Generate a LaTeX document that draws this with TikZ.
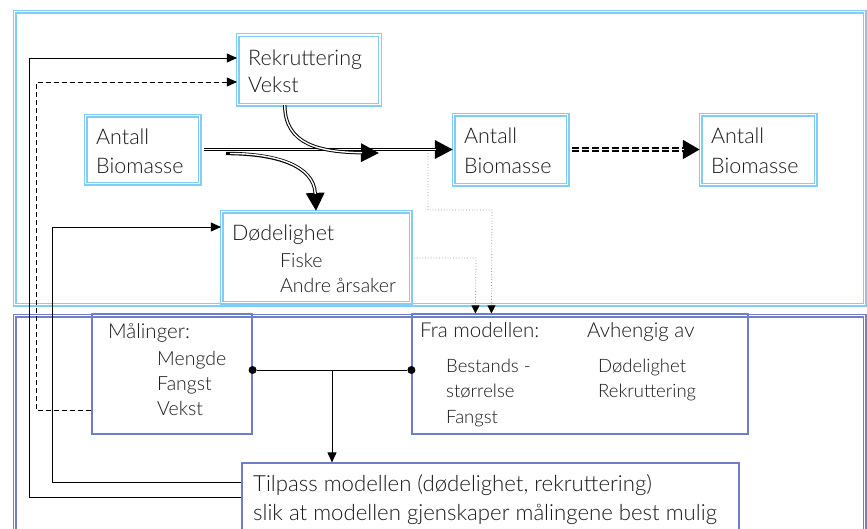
\documentclass[tikz,border=0pt]{standalone}
\usepackage{fontspec}
\setmainfont{Lato}[UprightFont={* Light}]
\usetikzlibrary{arrows.meta,calc}
\definecolor{cyanc}{RGB}{130,205,245}
\definecolor{bluec}{RGB}{112,125,200}
\definecolor{txt}{RGB}{25,25,25}
\definecolor{grayc}{RGB}{150,150,150}
\tikzset{
  cyanbox/.style={draw=cyanc, double=white, double distance=1.6pt, line width=1.2pt, rectangle, inner sep=0pt},
  bluebox/.style={draw=bluec, line width=1.2pt, rectangle, inner sep=0pt},
  lbl/.style={anchor=base west, inner sep=0pt, text=txt, font=\fontsize{21.5}{21.5}\selectfont},
  lblt1/.style={anchor=base west, inner sep=0pt, text=txt, font=\fontsize{22.2}{22.2}\selectfont},
  lblm/.style={anchor=base west, inner sep=0pt, text=txt, font=\fontsize{20.5}{20.5}\selectfont},
  lbls/.style={anchor=base west, inner sep=0pt, text=txt, font=\fontsize{19.5}{19.5}\selectfont},
  lblt/.style={anchor=base west, inner sep=0pt, text=txt, font=\fontsize{18.5}{18.5}\selectfont},
  dblouter/.style={draw=black, line width=3.4pt, -{Triangle[length=18pt,width=18pt]}},
  dblinner/.style={draw=white, line width=1.4pt, shorten >=17pt},
  dshouter/.style={draw=black, line width=5.4pt, dash pattern=on 7pt off 3pt, -{Triangle[length=17pt,width=18pt]}},
  dshinner/.style={draw=white, line width=1.4pt, shorten >=16pt},
  thinarr/.style={draw=black, line width=0.9pt, -{Triangle[length=10pt,width=9pt]}},
  grayarr/.style={draw=grayc, dotted, line width=0.8pt, -{Triangle[length=8pt,width=8pt,black]}},
  dotc/.style={circle, fill=black, inner sep=0pt, minimum size=8pt}
}
\begin{document}
\begin{tikzpicture}[x=1pt,y=-1pt]
\clip (0,0) rectangle (867,528);
\fill[white] (0,0) rectangle (867,528);
% frames
\node[cyanbox, minimum width=850pt, minimum height=293pt] (topf) at (439.5,158) {};
\node[draw=bluec, double=white, double distance=1.6pt, line width=1.2pt, rectangle, inner sep=0pt, minimum width=850pt, minimum height=240pt] (botf) at (439.5,435.5) {};
% top boxes
\node[cyanbox, minimum width=142.5pt, minimum height=69.5pt] (rek) at (308.75,69.75) {};
\node[cyanbox, minimum width=114pt, minimum height=68pt] (ant1) at (142.5,149.5) {};
\node[cyanbox, minimum width=189pt, minimum height=91pt] (dod) at (316,257) {};
\node[cyanbox, minimum width=114pt, minimum height=70pt] (ant2) at (510.5,149.5) {};
\node[cyanbox, minimum width=115pt, minimum height=70pt] (ant3) at (758,149.5) {};
% bottom boxes
\node[bluebox, minimum width=160pt, minimum height=120pt] (mal) at (172,374) {};
\node[bluebox, minimum width=336pt, minimum height=120pt] (fra) at (580,374) {};
\node[bluebox, minimum width=497pt, minimum height=82pt] (til) at (490.5,504) {};
% texts
\node[lbl] (t1) at (248,65) {Rekruttering};
\node[lbl] (t2) at (248,92) {Vekst};
\node[lbl] (t3) at (96,144) {Antall};
\node[lbl] (t4) at (96,173) {Biomasse};
\node[lbl] (t5) at (464,143) {Antall};
\node[lbl] (t6) at (464,173) {Biomasse};
\node[lbl] (t7) at (711,143) {Antall};
\node[lbl] (t8) at (711,173) {Biomasse};
\node[lbl] (t9) at (232,240) {Dødelighet};
\node[lbls] (t10) at (280,267) {Fiske};
\node[lbls] (t11) at (280,292) {Andre årsaker};
\node[lblm] (t12) at (108,338) {Målinger:};
\node[lbls] (t13) at (157,365) {Mengde};
\node[lbls] (t14) at (157,390) {Fangst};
\node[lbls] (t15) at (157,415) {Vekst};
\node[lblm] (t16) at (420,337) {Fra modellen:};
\node[lblm] (t17) at (587,337) {Avhengig av};
\node[lblt] (t18) at (446,372) {Bestands -};
\node[lblt] (t19) at (446,397) {størrelse};
\node[lblt] (t20) at (446,423) {Fangst};
\node[lblt] (t21) at (598,372) {Dødelighet};
\node[lblt] (t22) at (598,397) {Rekruttering};
\node[lblt1] (t23) at (253,491) {Tilpass modellen (dødelighet, rekruttering)};
\node[lblt1] (t24) at (253,520) {slik at modellen gjenskaper målingene best mulig};
% gray dotted connectors
\coordinate (g1) at (428,153);
\draw[grayarr] (g1) -- (428,210) -- (492,210) -- ([xshift=80pt]fra.north west);
\draw[grayarr] (dod.east |- 0,258) -- (476,258) -- ([xshift=64pt]fra.north west);
% main flows (double lines)
\coordinate (c1) at (226,153.5);
\draw[dblouter] ([xshift=4pt]ant1.east) -- (ant2.west);
\draw[dblinner] ([xshift=4pt]ant1.east) -- (ant2.west);
\draw[dblouter] ([xshift=-24pt]rek.south) .. controls (285,145) and (320,152) .. (379,153);
\draw[dblinner] ([xshift=-24pt]rek.south) .. controls (285,145) and (320,152) .. (379,153);
\draw[dblouter] (c1) .. controls (275,153.5) and (314,165) .. (dod.north);
\draw[dblinner] ([xshift=4pt]c1) .. controls (275,153.5) and (314,165) .. (dod.north);
\draw[dshouter] ([xshift=4pt]ant2.east) -- (ant3.west);
\draw[dshinner] ([xshift=4pt]ant2.east) -- (ant3.west);
% left feedback connectors
\draw[thinarr] (til.west |- 0,497) -| (29,58) -- (rek.west |- 0,58);
\draw[thinarr, dash pattern=on 5pt off 3pt] (mal.west |- 0,410) -| (36.5,82) -- (rek.west |- 0,82);
\draw[thinarr] (til.west |- 0,482) -| (52.7,227) -- (dod.west |- 0,227);
% comparison
\node[dotc] (d1) at (mal.east |- 0,370) {};
\node[dotc] (d2) at (fra.west |- 0,370) {};
\draw[line width=0.9pt] (d1) -- (d2);
\coordinate (m1) at (332,370);
\draw[thinarr] (m1) -- (til.north -| m1);
\end{tikzpicture}
\end{document}
